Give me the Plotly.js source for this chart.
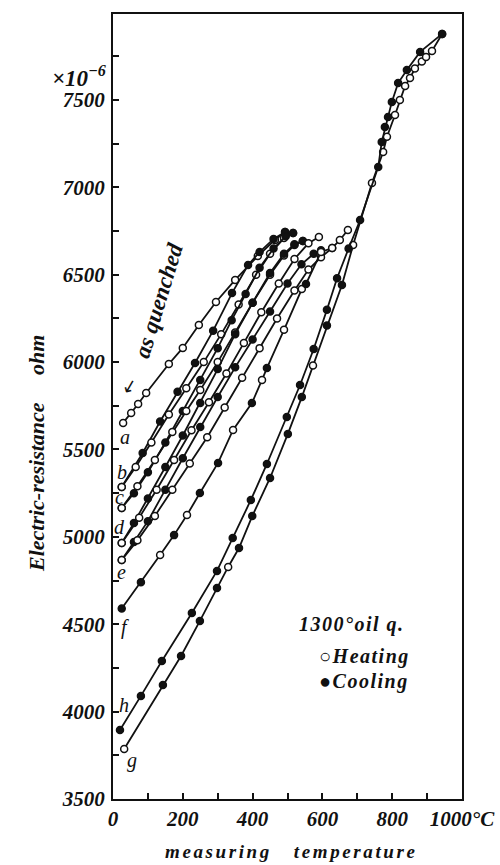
<!DOCTYPE html>
<html>
<head>
<meta charset="utf-8">
<script src="https://cdn.plot.ly/plotly-3.0.1.min.js"></script>
<style>
  html, body { margin: 0; padding: 0; background: #fff; }
  #chart { width: 500px; height: 865px; }
</style>
</head>
<body>
<div id="chart"></div>
<script>
// Electric resistance (×10^-6 ohm) against measuring temperature (°C),
// 1300° oil-quenched specimen, successive heating / cooling runs.
// Phase per point: 'H' = heating (open circle), 'C' = cooling (filled circle).

// as quenched (a) -> heated to ~500 °C
const asQuenchedT = [29, 52, 72, 95, 160, 200, 246, 295, 350, 415, 464, 493];
const asQuenchedR = [5652, 5709, 5760, 5823, 5989, 6081, 6212, 6344, 6470, 6607, 6699, 6745];
const asQuenchedPhase = 'H';

// cooled from ~500 °C down to b
const coolBT = [493, 460, 420, 387, 341, 287, 235, 185, 135, 85, 25];
const coolBR = [6745, 6705, 6630, 6556, 6395, 6180, 5995, 5830, 5660, 5480, 5285];
const coolBPhase = 'C';

// b heated to ~516 °C
const heatBT = [25, 65, 110, 160, 210, 260, 310, 360, 410, 450, 490, 516];
const heatBR = [5285, 5400, 5540, 5700, 5850, 6000, 6160, 6330, 6500, 6620, 6710, 6739];
const heatBPhase = 'H';

// cooled down to c
const coolCT = [516, 495, 460, 420, 380, 340, 300, 250, 200, 150, 100, 60, 25];
const coolCR = [6739, 6720, 6650, 6540, 6390, 6240, 6080, 5898, 5720, 5540, 5370, 5250, 5165];
const coolCPhase = 'C';

// c heated to ~544 °C
const heatCT = [25, 70, 120, 170, 210, 250, 300, 350, 400, 450, 490, 520, 544];
const heatCR = [5165, 5290, 5440, 5600, 5720, 5840, 6000, 6170, 6340, 6500, 6610, 6670, 6693];
const heatCPhase = 'H';

// cooled down to d
const coolDT = [544, 520, 490, 450, 400, 350, 300, 250, 200, 150, 100, 60, 25];
const coolDR = [6693, 6675, 6620, 6510, 6340, 6160, 5960, 5766, 5580, 5400, 5220, 5080, 4965];
const coolDPhase = 'C';

// d heated to ~590 °C
const heatDT = [25, 75, 125, 175, 225, 275, 325, 375, 425, 475, 520, 560, 590];
const heatDR = [4965, 5110, 5270, 5440, 5610, 5770, 5935, 6110, 6285, 6450, 6590, 6680, 6716];
const heatDPhase = 'H';

// cooled down to e
const coolET = [596, 575, 540, 500, 450, 400, 350, 300, 250, 200, 150, 100, 60, 25];
const coolER = [6640, 6620, 6560, 6450, 6290, 6130, 5970, 5800, 5629, 5450, 5270, 5090, 4970, 4868];
const coolEPhase = 'C';

// e heated to ~628 °C
const heatET = [25, 70, 120, 170, 220, 270, 320, 370, 420, 470, 520, 560, 596, 628];
const heatER = [4868, 4980, 5120, 5270, 5420, 5570, 5740, 5910, 6080, 6250, 6410, 6530, 6600, 6653];
const heatEPhase = 'H';

// f run, up to ~673 °C
const runFT = [25, 80, 135, 175, 212, 249, 301, 344, 398, 427, 441, 490, 541, 553, 596, 628, 650, 673];
const runFR = [4590, 4740, 4896, 5010, 5125, 5251, 5423, 5612, 5766, 5898, 5966, 6185, 6418, 6447, 6630, 6653, 6699, 6756];
const runFPhase = ['C', 'C', 'H', 'C', 'H', 'C', 'C', 'H', 'C', 'H', 'C', 'H', 'H', 'C', 'H', 'H', 'H', 'H'];

// g heated to ~943 °C
const heatGT = [32, 143, 195, 249, 298, 330, 361, 399, 450, 501, 541, 573, 613, 656, 688, 742, 774, 785, 808, 822, 837, 851, 865, 885, 897, 914, 943];
const heatGR = [3786, 4152, 4318, 4519, 4707, 4828, 4936, 5119, 5337, 5589, 5800, 5980, 6210, 6441, 6670, 7025, 7202, 7290, 7414, 7500, 7580, 7626, 7680, 7720, 7746, 7780, 7878];
const heatGPhase = ['H', 'C', 'C', 'C', 'C', 'H', 'C', 'C', 'C', 'C', 'C', 'H', 'C', 'C', 'H', 'H', 'H', 'H', 'H', 'H', 'H', 'H', 'H', 'H', 'H', 'H', 'H'];

// cooled from ~943 °C down to h
const coolHT = [943, 880, 842, 817, 799, 788, 779, 770, 760, 708, 675, 642, 613, 575, 536, 498, 441, 395, 343, 298, 226, 140, 80, 20];
const coolHR = [7878, 7775, 7672, 7597, 7489, 7403, 7345, 7260, 7117, 6813, 6650, 6480, 6300, 6075, 5869, 5686, 5417, 5211, 4994, 4805, 4564, 4290, 4090, 3895];
const coolHPhase = 'C';

// state labels at room temperature
const stateLabels = ['a', 'b', 'c', 'd', 'e', 'f', 'h', 'g'];
const stateLabelT = [34, 26, 20, 20, 23, 34, 32, 54];
const stateLabelR = [5572, 5371, 5228, 5056, 4799, 4479, 4038, 3723];

// axis ticks
const xTickVals = [0, 200, 400, 600, 800, 1000];
const xTickText = ['0', '200', '400', '600', '800', '1000°C'];
const yTickVals = [3500, 4000, 4500, 5000, 5500, 6000, 6500, 7000, 7500];
const yTickText = ['3500', '4000', '4500', '5000', '5500', '6000', '6500', '7000', '7500'];

const INK = '#111';
const SERIF = 'Liberation Serif, Times New Roman, serif';

function run(T, R, phase) {
  const ph = Array.isArray(phase) ? phase : T.map(() => phase);
  return {
    x: T, y: R, type: 'scatter', mode: 'lines+markers',
    showlegend: false, hoverinfo: 'skip',
    line: { color: INK, width: 1.8 },
    marker: {
      size: 7,
      color: ph.map(p => (p === 'C' ? INK : '#fff')),
      line: { color: INK, width: 1.5 }
    }
  };
}

const traces = [
  run(asQuenchedT, asQuenchedR, asQuenchedPhase),
  run(coolBT, coolBR, coolBPhase),
  run(heatBT, heatBR, heatBPhase),
  run(coolCT, coolCR, coolCPhase),
  run(heatCT, heatCR, heatCPhase),
  run(coolDT, coolDR, coolDPhase),
  run(heatDT, heatDR, heatDPhase),
  run(coolET, coolER, coolEPhase),
  run(heatET, heatER, heatEPhase),
  run(runFT, runFR, runFPhase),
  run(heatGT, heatGR, heatGPhase),
  run(coolHT, coolHR, coolHPhase)
];

const xTickFont = { family: SERIF, size: 21, color: INK, style: 'italic', weight: 'bold' };
const yTickFont = { family: SERIF, size: 21, color: INK, style: 'italic', weight: 'bold' };
const labelFont = { family: SERIF, size: 20, color: INK, style: 'italic' };
const textFont = { family: SERIF, size: 20, color: INK, style: 'italic', weight: 'bold' };

function spaced(s, px) {
  return '<span style="letter-spacing:' + px + 'px">' + s + '</span>';
}

const annotations = stateLabels.map((s, i) => ({
  x: stateLabelT[i], y: stateLabelR[i], xref: 'x', yref: 'y',
  text: s, showarrow: false, font: labelFont, xanchor: 'center', yanchor: 'middle'
}));

annotations.push(
  { x: -0.012, xref: 'paper', y: 7632, yref: 'y', text: '×10<sup>−6</sup>',
    showarrow: false, xanchor: 'right', yanchor: 'middle',
    font: { family: SERIF, size: 23, color: INK, style: 'italic', weight: 'bold' } },
  { x: 132, y: 6350, xref: 'x', yref: 'y', text: 'as quenched', textangle: -73,
    showarrow: false, font: { family: SERIF, size: 23, color: INK, style: 'italic', weight: 'bold' } },
  { x: 47, y: 5860, xref: 'x', yref: 'y', text: '↓', textangle: 30,
    showarrow: false, font: { family: 'DejaVu Sans, sans-serif', size: 18, color: INK } },
  { x: 685, y: 4496, xref: 'x', yref: 'y', text: spaced('1300°oil q.', 1.5), showarrow: false,
    font: textFont, xanchor: 'center' },
  { x: 585, y: 4313, xref: 'x', yref: 'y', text: spaced('○Heating', 1.5), showarrow: false,
    font: textFont, xanchor: 'left' },
  { x: 585, y: 4170, xref: 'x', yref: 'y', text: spaced('●Cooling', 1.5), showarrow: false,
    font: textFont, xanchor: 'left' },
  { x: -0.261, xref: 'paper', y: 0.44, yref: 'paper',
    text: 'Electric-resistance\u00a0\u00a0\u00a0\u00a0\u00a0ohm', textangle: -90,
    showarrow: false, font: { family: SERIF, size: 22, color: INK, style: 'italic', weight: 'bold' } },
  { x: 0.51, xref: 'paper', y: -0.0675, yref: 'paper', yanchor: 'middle',
    text: spaced('measuring\u00a0\u00a0\u00a0temperature', 2.6),
    showarrow: false, font: { family: SERIF, size: 19, color: INK, style: 'italic', weight: 'bold' } }
);

const layout = {
  width: 500, height: 865,
  margin: { l: 113, r: 38, t: 14, b: 66 },
  paper_bgcolor: '#fff', plot_bgcolor: '#fff',
  showlegend: false,
  xaxis: {
    range: [0, 1000], showgrid: false, zeroline: false,
    showline: true, mirror: true, linecolor: INK, linewidth: 2,
    tickmode: 'array', tickvals: xTickVals, ticktext: xTickText,
    ticks: 'inside', ticklen: 6, tickwidth: 2, tickcolor: INK,
    minor: { dtick: 100, ticks: 'inside', ticklen: 6, tickwidth: 2, tickcolor: INK },
    tickfont: xTickFont
  },
  yaxis: {
    range: [3500, 7992], showgrid: false, zeroline: false,
    showline: true, mirror: true, linecolor: INK, linewidth: 2,
    tickmode: 'array', tickvals: yTickVals, ticktext: yTickText,
    ticks: 'inside', ticklen: 6, tickwidth: 2, tickcolor: INK,
    minor: { dtick: 250, ticks: 'inside', ticklen: 6, tickwidth: 2, tickcolor: INK },
    tickfont: yTickFont, ticklabelstandoff: 2
  },
  annotations: annotations
};

Plotly.newPlot('chart', traces, layout, { staticPlot: true, displayModeBar: false });
</script>
</body>
</html>
